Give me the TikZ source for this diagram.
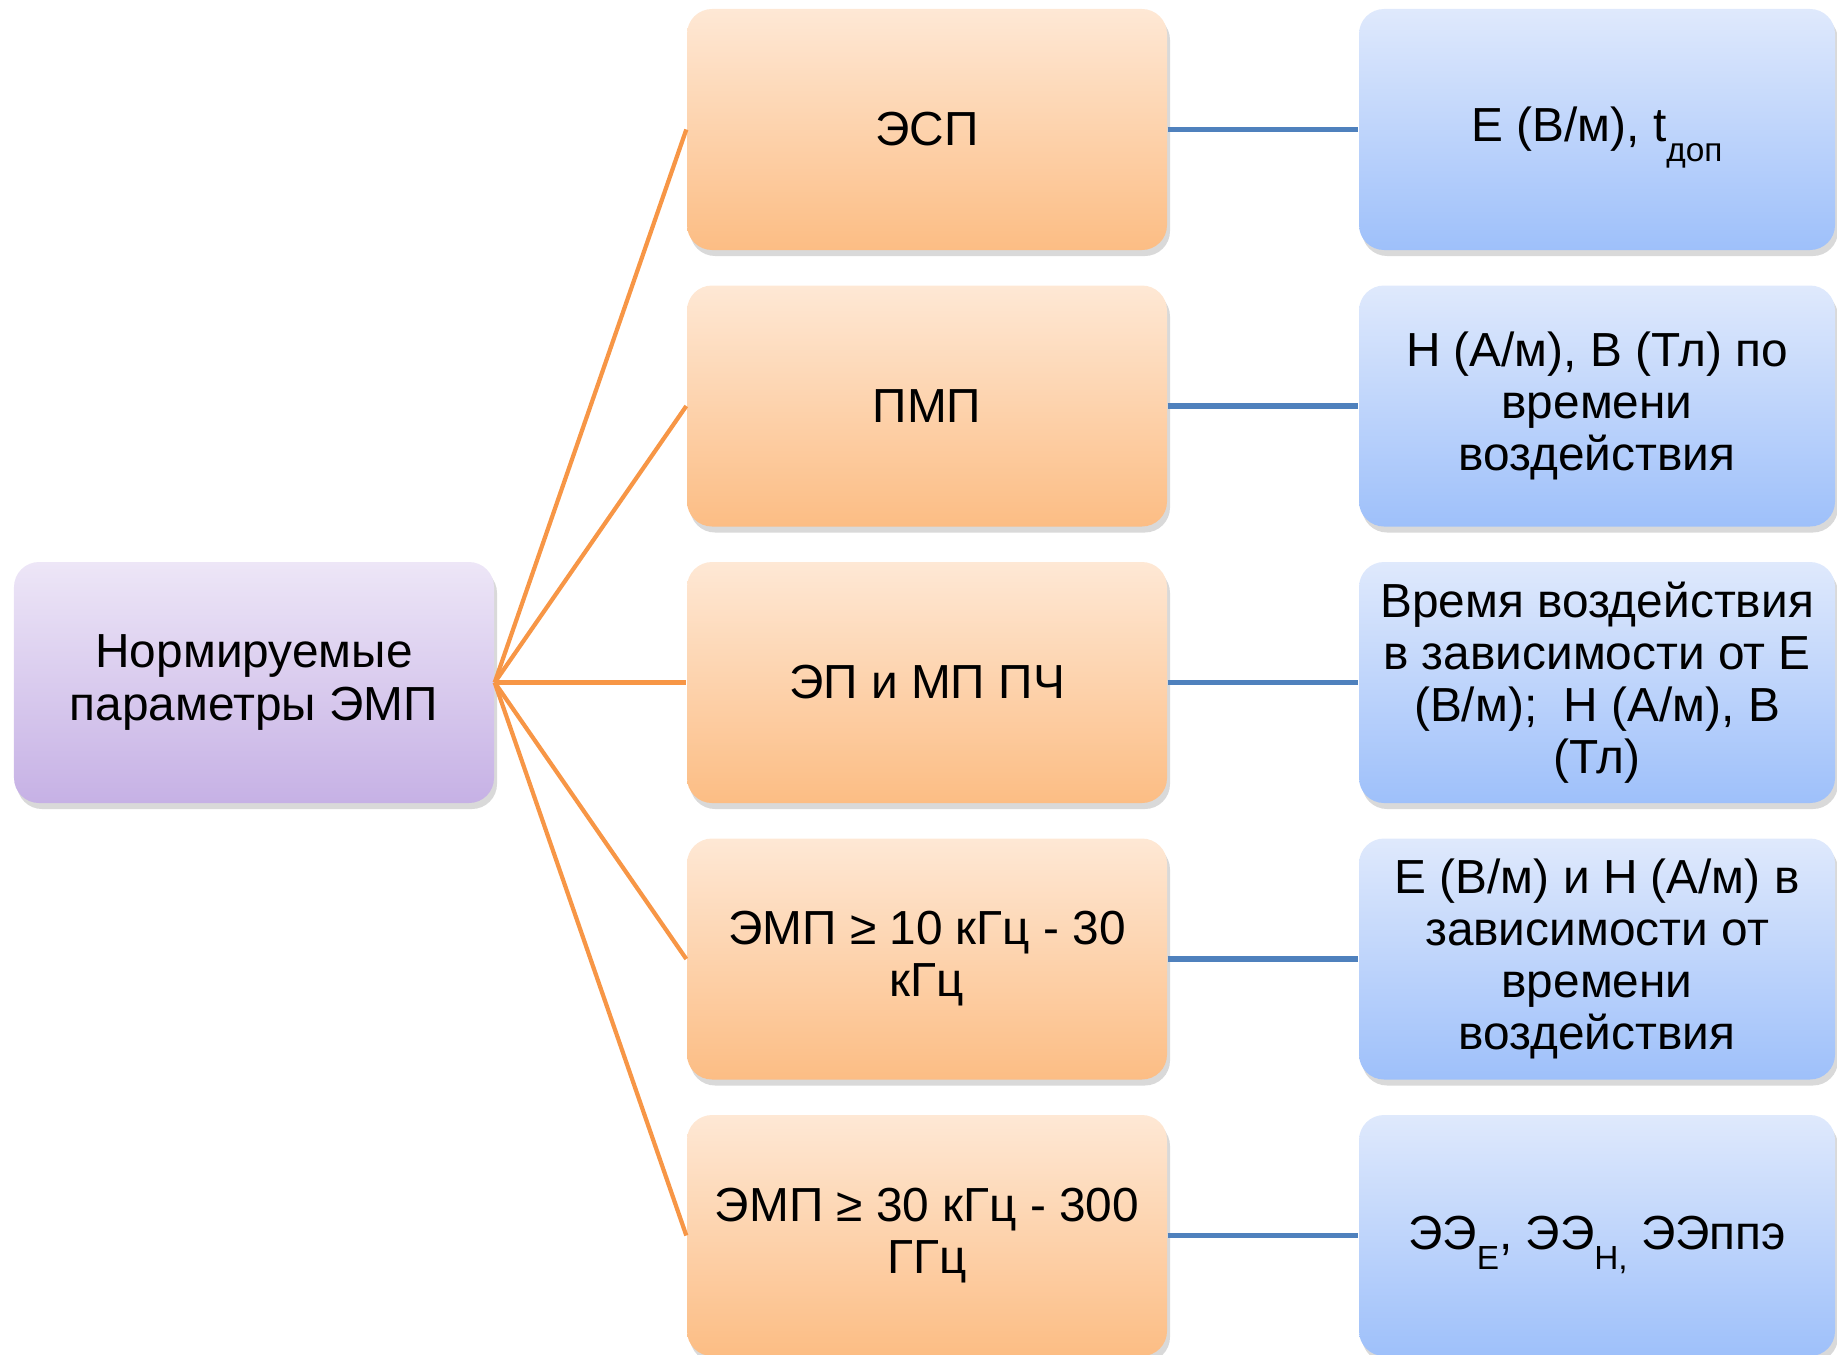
\documentclass[tikz,border=0pt]{standalone}
\usepackage{fontspec}
\setmainfont{Liberation Sans}
\usetikzlibrary{shadows}
\definecolor{color1}{HTML}{F79646}
\definecolor{color2}{HTML}{4F81BD}
\definecolor{orangetop}{HTML}{FEE8D5}
\definecolor{orangebottom}{HTML}{FCBD84}
\definecolor{purpletop}{HTML}{EDE6F7}
\definecolor{purplebottom}{HTML}{C6B1E5}
\definecolor{bluetop}{HTML}{DFE9FC}
\definecolor{bluebottom}{HTML}{9EC0FA}
\newcommand{\lowsub}[1]{\raisebox{-0.42em}[0pt][0pt]{\fontsize{9.5}{9.5}\selectfont #1}}

\tikzset{
	box/.style={
		rounded corners=0.25cm,
		minimum width=4.8cm,
		minimum height=2.41cm,
		align=center,
		font=\fontsize{13.6}{14.8}\selectfont,
		drop shadow={shadow xshift=0.03cm, shadow yshift=-0.06cm, opacity=0.3}},
	parambox/.style={box, top color=purpletop, bottom color=purplebottom},
	groupbox/.style={box, top color=orangetop, bottom color=orangebottom},
	valuebox/.style={box, minimum width=4.76cm, top color=bluetop, bottom color=bluebottom},
	link1/.style={color1, line width=1.2pt},
	link2/.style={color2, line width=1.6pt}
}

\begin{document}
\begin{tikzpicture}[scale=1]
		\useasboundingbox (0,0) rectangle (18.37,-13.54);
		% parameters
		\node[parambox] (param) at (2.54,-6.825) {Нормируемые\\параметры ЭМП};
		% groups
		\node[groupbox] (group1) at (9.27,-1.295) {ЭСП};
		\node[groupbox] (group2) at (9.27,-4.06) {ПМП};
		\node[groupbox] (group3) at (9.27,-6.825) {ЭП и МП ПЧ};
		\node[groupbox] (group4) at (9.27,-9.59) {ЭМП ≥ 10 кГц - 30\\кГц};
		\node[groupbox] (group5) at (9.27,-12.355) {ЭМП ≥ 30 кГц - 300\\ГГц};
		% values
		\node[valuebox] (value1) at (15.97,-1.295) {Е (В/м), t\lowsub{доп}};
		\node[valuebox] (value2) at (15.97,-4.06) {Н (А/м), В (Тл) по\\времени\\воздействия};
		\node[valuebox] (value3) at (15.97,-6.825) {Время воздействия\\в зависимости от Е\\(В/м);~ Н (А/м), В\\(Тл)};
		\node[valuebox] (value4) at (15.97,-9.59) {Е (В/м) и Н (А/м) в\\зависимости от\\времени\\воздействия};
		\node[valuebox] (value5) at (15.97,-12.355) {ЭЭ\lowsub{E}, ЭЭ\lowsub{H,} ЭЭппэ};
		% links
		\foreach \i in {1,...,5}{
			\draw[link1] (param.east) -- (group\i.west);
			\draw[link2] (group\i.east) -- (value\i.west);
		}
\end{tikzpicture}
\end{document}
